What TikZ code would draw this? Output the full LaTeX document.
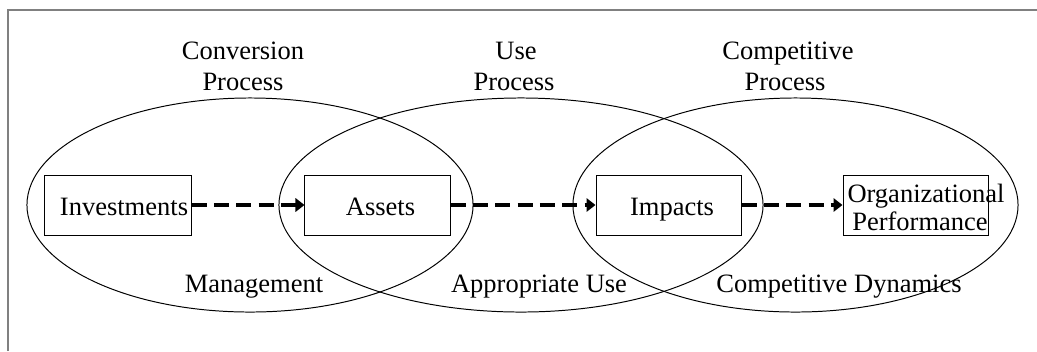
\documentclass[tikz,border=0pt]{standalone}
\usepackage{fontspec}
\setmainfont{Liberation Serif}
\usetikzlibrary{shapes.geometric,arrows.meta}
\begin{document}
\begin{tikzpicture}[x=0.025cm,y=-0.025cm,
  txt/.style={font=\fontsize{18.85pt}{22pt}\selectfont, inner sep=0pt, anchor=base},
  oval/.style={ellipse, draw, line width=0.7pt, inner sep=0pt},
  box/.style={draw, line width=0.7pt, minimum height=60*0.7113pt, inner sep=0pt},
  flow/.style={line width=2.3pt, dash pattern=on 10.7pt off 5.2pt, -{Triangle[length=6.4pt,width=9.5pt]}}
]
\useasboundingbox (0,0) rectangle (1037,351);
% frame
\draw[line width=1.1pt, color=black!50] (8,351) -- (8,10) -- (1037,10);
% ellipses
\node[oval, minimum width=446*0.7113pt, minimum height=214*0.7113pt] (e1) at (250,205) {};
\node[oval, minimum width=484*0.7113pt, minimum height=214*0.7113pt] (e2) at (521,205) {};
\node[oval, minimum width=445*0.7113pt, minimum height=214*0.7113pt] (e3) at (795.5,205) {};
% boxes
\node[box, minimum width=146*0.7113pt] (inv) at (118,205) {};
\node[box, minimum width=145*0.7113pt] (ass) at (377.5,205) {};
\node[box, minimum width=145*0.7113pt] (imp) at (668.5,205) {};
\node[box, minimum width=145*0.7113pt] (org) at (915.5,205) {};
% box texts
\node[txt] (tinv) at (124,215) {Investments};
\node[txt] (tass) at (380.5,215) {Assets};
\node[txt] (timp) at (672,215) {Impacts};
\node[txt] (torg1) at (926,202) {Organizational};
\node[txt] (torg2) at (920,230) {Performance};
% process labels
\node[txt] (c1) at (243,59) {Conversion};
\node[txt] (c2) at (243,90) {Process};
\node[txt] (u1) at (516,59) {Use};
\node[txt] (u2) at (514,90) {Process};
\node[txt] (k1) at (788,59) {Competitive};
\node[txt] (k2) at (785,90) {Process};
% bottom labels
\node[txt] (m) at (254,292) {Management};
\node[txt] (a) at (539,292) {Appropriate Use};
\node[txt] (d) at (839,292) {Competitive Dynamics};
% arrows
\draw[flow] (inv.east) -- (ass.west);
\draw[flow] (ass.east) -- (imp.west);
\draw[flow] (imp.east) -- (org.west);
\end{tikzpicture}
\end{document}
